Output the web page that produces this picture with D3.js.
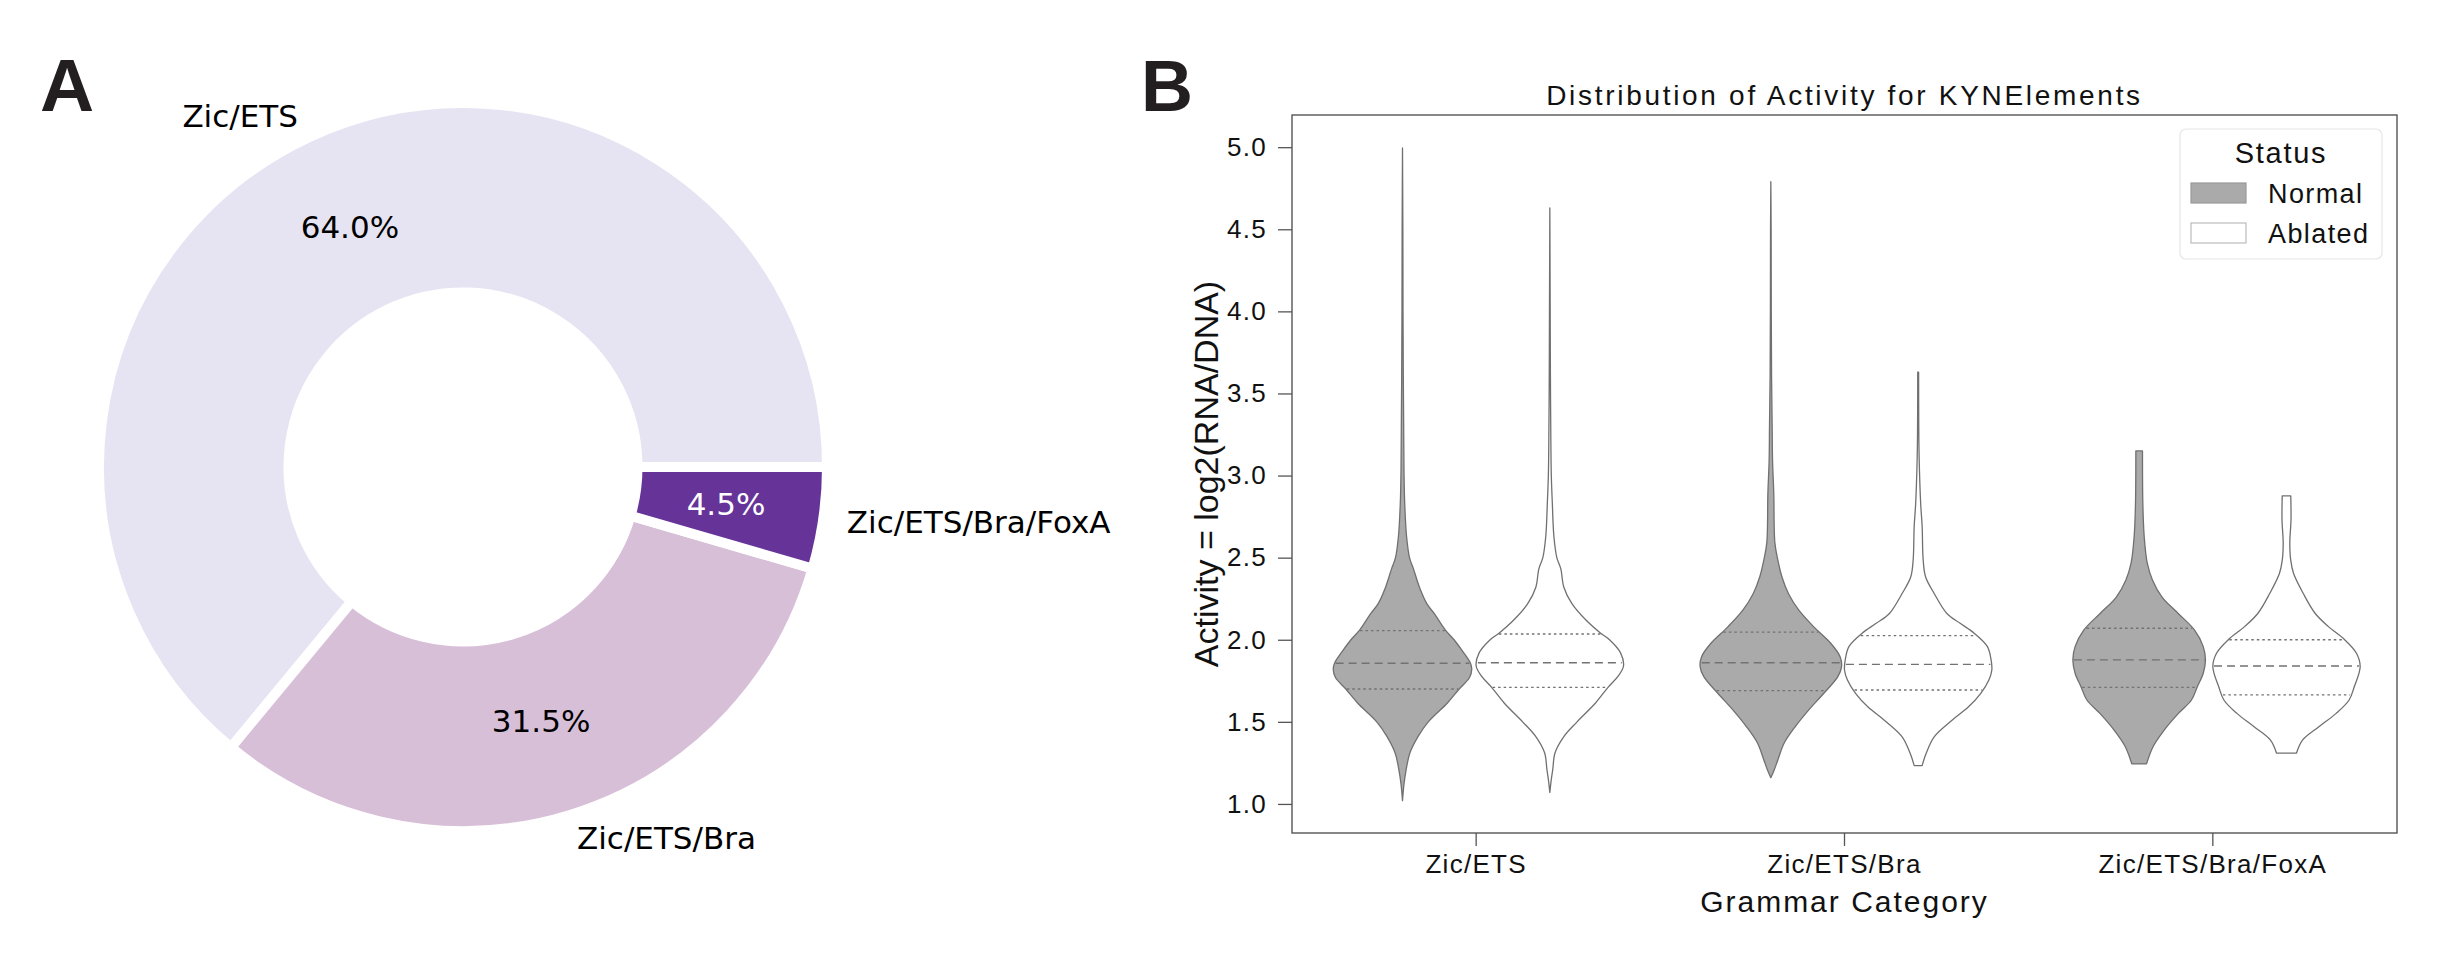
<!DOCTYPE html>
<html>
<head>
<meta charset="utf-8">
<script src="https://cdn.jsdelivr.net/npm/d3@7"></script>
<style>
  body { margin: 0; background: #fff; }
  text { white-space: pre; }
</style>
</head>
<body>
<svg id="chart" width="2459" height="960"></svg>
<script>
// ---- panel A data ----
const pieLabels = ["Zic/ETS", "Zic/ETS/Bra", "Zic/ETS/Bra/FoxA"];
const pieShares = [64.0, 31.5, 4.5];
const pieColors = ["#e6e4f2", "thistle", "rebeccapurple"];

// ---- panel B data ----
const categories = ["Zic/ETS", "Zic/ETS/Bra", "Zic/ETS/Bra/FoxA"];
const statuses = ["Normal", "Ablated"];
const yTicks = [1.0, 1.5, 2.0, 2.5, 3.0, 3.5, 4.0, 4.5, 5.0];

// density profiles: [activity, relative half width]
const zicEtsNormal = [
  [1.02, 0], [1.12, 0.02], [1.21, 0.05], [1.31, 0.10], [1.41, 0.21], [1.50, 0.35],
  [1.615, 0.61], [1.70, 0.77], [1.77, 0.91], [1.82, 0.94], [1.86, 0.92], [1.94, 0.80],
  [2.0, 0.70], [2.06, 0.58], [2.16, 0.43], [2.22, 0.33], [2.32, 0.23], [2.43, 0.15],
  [2.5, 0.095], [2.63, 0.055], [2.83, 0.03], [3.03, 0.02], [3.3, 0.016], [3.6, 0.011],
  [4.0, 0.007], [4.5, 0.005], [4.995, 0]
];
const zicEtsAblated = [
  [1.07, 0], [1.15, 0.02], [1.21, 0.04], [1.31, 0.07], [1.41, 0.19], [1.50, 0.37],
  [1.615, 0.62], [1.71, 0.79], [1.78, 0.93], [1.84, 1.0], [1.92, 0.96], [2.0, 0.81],
  [2.04, 0.69], [2.12, 0.49], [2.22, 0.30], [2.32, 0.19], [2.43, 0.15], [2.5, 0.095],
  [2.63, 0.055], [2.83, 0.034], [3.0, 0.02], [3.2, 0.014], [3.6, 0.008], [4.0, 0.005],
  [4.63, 0]
];
const braNormal = [
  [1.16, 0], [1.20, 0.04], [1.268, 0.095], [1.37, 0.18], [1.47, 0.33], [1.57, 0.51],
  [1.674, 0.72], [1.775, 0.91], [1.836, 0.96], [1.897, 0.94], [1.98, 0.81], [2.08, 0.58],
  [2.18, 0.38], [2.28, 0.24], [2.384, 0.15], [2.486, 0.095], [2.59, 0.055], [2.89, 0.04],
  [3.095, 0.023], [3.3, 0.018], [3.6, 0.01], [4.0, 0.006], [4.5, 0.004], [4.79, 0]
];
const braAblated = [
  [1.233, 0.054], [1.31, 0.11], [1.41, 0.22], [1.51, 0.46], [1.59, 0.68], [1.674, 0.85],
  [1.755, 0.96], [1.816, 1.0], [1.877, 0.99], [1.958, 0.94], [2.04, 0.76], [2.10, 0.57],
  [2.16, 0.39], [2.28, 0.22], [2.384, 0.10], [2.486, 0.068], [2.69, 0.054], [2.83, 0.034],
  [3.095, 0.014], [3.3, 0.008], [3.63, 0.006]
];
const foxaNormal = [
  [1.244, 0.10], [1.35, 0.19], [1.45, 0.34], [1.55, 0.53], [1.633, 0.71], [1.714, 0.79],
  [1.796, 0.87], [1.877, 0.90], [1.958, 0.87], [2.06, 0.75], [2.16, 0.53], [2.26, 0.31],
  [2.364, 0.18], [2.466, 0.11], [2.63, 0.068], [2.83, 0.05], [3.15, 0.045]
];
const foxaAblated = [
  [1.31, 0.136], [1.39, 0.22], [1.47, 0.44], [1.55, 0.67], [1.633, 0.85], [1.714, 0.92],
  [1.836, 1.0], [1.918, 0.95], [2.0, 0.79], [2.08, 0.57], [2.16, 0.39], [2.28, 0.23],
  [2.405, 0.095], [2.486, 0.057], [2.59, 0.045], [2.73, 0.061], [2.876, 0.058]
];
// lower quartile, median, upper quartile
const zicEtsNormalQ = [1.70, 1.857, 2.055];
const zicEtsAblatedQ = [1.71, 1.86, 2.035];
const braNormalQ = [1.69, 1.86, 2.046];
const braAblatedQ = [1.694, 1.85, 2.025];
const foxaNormalQ = [1.71, 1.877, 2.07];
const foxaAblatedQ = [1.664, 1.84, 2.0];

const violins = [
  { category: categories[0], status: "Normal", profile: zicEtsNormal, q: zicEtsNormalQ },
  { category: categories[0], status: "Ablated", profile: zicEtsAblated, q: zicEtsAblatedQ },
  { category: categories[1], status: "Normal", profile: braNormal, q: braNormalQ },
  { category: categories[1], status: "Ablated", profile: braAblated, q: braAblatedQ },
  { category: categories[2], status: "Normal", profile: foxaNormal, q: foxaNormalQ },
  { category: categories[2], status: "Ablated", profile: foxaAblated, q: foxaAblatedQ }
];

const svg = d3.select("#chart");
const sansA = "'DejaVu Sans', sans-serif";
const sansB = "'Liberation Sans', Arial, sans-serif";

/* === panel letters === */
svg.append("text").attr("x", 40).attr("y", 111).text("A")
  .attr("font-family", sansB).attr("font-weight", "bold").attr("font-size", 75).attr("fill", "#231f20");
svg.append("text").attr("x", 1141).attr("y", 111).text("B")
  .attr("font-family", sansB).attr("font-weight", "bold").attr("font-size", 72).attr("fill", "#231f20");

/* === panel A: donut === */
const cx = 463, cy = 467, R = 359, edge = 10;
const pie = d3.pie().sort(null)
  .startAngle(Math.PI / 2)
  .endAngle(Math.PI / 2 - 2 * Math.PI);
const arcs = pie(pieShares);
const arc = d3.arc().innerRadius(R / 2 - edge / 2).outerRadius(R + edge / 2);

const gA = svg.append("g").attr("transform", `translate(${cx},${cy})`);
gA.selectAll("path.wedge")
  .data(arcs)
  .join("path")
  .attr("class", "wedge")
  .attr("d", arc)
  .attr("fill", (d, i) => pieColors[i])
  .attr("stroke", "#fff")
  .attr("stroke-width", edge);

const midA = d => (d.startAngle + d.endAngle) / 2;
gA.selectAll("text.pct")
  .data(arcs)
  .join("text")
  .attr("class", "pct")
  .attr("x", d => 0.74 * R * Math.sin(midA(d)))
  .attr("y", d => -0.74 * R * Math.cos(midA(d)))
  .attr("text-anchor", "middle")
  .attr("dominant-baseline", "central")
  .attr("font-family", sansA)
  .attr("font-size", 31)
  .attr("fill", (d, i) => d3.hsl(pieColors[i]).l < 0.5 ? "#fff" : "#000")
  .text(d => d.data.toFixed(1) + "%");

gA.selectAll("text.lbl")
  .data(arcs)
  .join("text")
  .attr("class", "lbl")
  .attr("x", d => 1.08 * R * Math.sin(midA(d)))
  .attr("y", d => -1.08 * R * Math.cos(midA(d)))
  .attr("text-anchor", d => Math.sin(midA(d)) < 0 ? "end" : "start")
  .attr("dominant-baseline", "central")
  .attr("font-family", sansA)
  .attr("font-size", 31)
  .attr("fill", "#000")
  .text((d, i) => pieLabels[i]);

/* === panel B: violins === */
const plot = { left: 1292, right: 2397, top: 115, bottom: 833 };

const x = d3.scaleBand().domain(categories).range([plot.left, plot.right]);
const bw = x.bandwidth();
const hue = d3.scaleBand().domain(statuses).range([-0.4 * bw, 0.4 * bw]);
const y = d3.scaleLinear().domain([0.823, 5.196]).range([plot.bottom, plot.top]);
const w = d3.scaleLinear().domain([0, 1]).range([0, 0.2 * bw]);
const fills = { Normal: "#aaaaaa", Ablated: "#ffffff" };

const centerOf = v => x(v.category) + bw / 2 + hue(v.status) + hue.bandwidth() / 2;

const gB = svg.append("g");

violins.forEach(v => {
  const c = centerOf(v);
  const area = d3.area()
    .curve(d3.curveCatmullRom)
    .y(d => y(d[0]))
    .x0(d => c - w(d[1]))
    .x1(d => c + w(d[1]));

  gB.append("path")
    .datum(v.profile)
    .attr("d", area)
    .attr("fill", fills[v.status])
    .attr("stroke", "#707070")
    .attr("stroke-width", 1.3)
    .attr("stroke-linejoin", "round");

  const dens = d3.scaleLinear()
    .domain(v.profile.map(d => d[0]))
    .range(v.profile.map(d => d[1]));

  v.q.forEach((qv, i) => {
    const hw = w(dens(qv)) - 1;
    gB.append("line")
      .attr("x1", c - hw).attr("x2", c + hw)
      .attr("y1", y(qv)).attr("y2", y(qv))
      .attr("stroke", "#727272")
      .attr("stroke-width", 1.3)
      .attr("stroke-dasharray", i === 1 ? "8,5" : "2.5,3");
  });
});

/* axes frame */
svg.append("rect")
  .attr("x", plot.left).attr("y", plot.top)
  .attr("width", plot.right - plot.left).attr("height", plot.bottom - plot.top)
  .attr("fill", "none")
  .attr("stroke", "#555")
  .attr("stroke-width", 1.4);

const yAxis = svg.append("g")
  .attr("transform", `translate(${plot.left},0)`)
  .call(d3.axisLeft(y).tickValues(yTicks).tickFormat(d3.format(".1f")).tickSize(14).tickPadding(11));
yAxis.select(".domain").remove();

const xAxis = svg.append("g")
  .attr("transform", `translate(0,${plot.bottom})`)
  .call(d3.axisBottom(x).tickSize(13).tickPadding(9));
xAxis.select(".domain").remove();

[yAxis, xAxis].forEach(g => {
  g.selectAll(".tick line").attr("stroke", "#555").attr("stroke-width", 1.3);
  g.selectAll(".tick text")
    .attr("font-family", sansB).attr("font-size", 26).attr("fill", "#111")
    .attr("letter-spacing", 1.3);
});

/* titles */
svg.append("text")
  .attr("x", (plot.left + plot.right) / 2).attr("y", 105)
  .attr("text-anchor", "middle")
  .attr("font-family", sansB).attr("font-size", 28).attr("fill", "#111")
  .attr("letter-spacing", 2.7)
  .text("Distribution of Activity for KYNElements");

svg.append("text")
  .attr("x", (plot.left + plot.right) / 2).attr("y", 912)
  .attr("text-anchor", "middle")
  .attr("font-family", sansB).attr("font-size", 30).attr("fill", "#111")
  .attr("letter-spacing", 2)
  .text("Grammar Category");

svg.append("text")
  .attr("transform", `translate(1218,${(plot.top + plot.bottom) / 2}) rotate(-90)`)
  .attr("text-anchor", "middle")
  .attr("font-family", sansB).attr("font-size", 34).attr("fill", "#111")
  .text("Activity = log2(RNA/DNA)");

/* legend */
const legend = svg.append("g").attr("transform", "translate(2180,129)");
legend.append("rect")
  .attr("width", 202).attr("height", 130).attr("rx", 6)
  .attr("fill", "#fff").attr("stroke", "#e6e6e6").attr("stroke-width", 1.2);
legend.append("text")
  .attr("x", 101).attr("y", 34)
  .attr("text-anchor", "middle")
  .attr("font-family", sansB).attr("font-size", 29).attr("fill", "#111")
  .attr("letter-spacing", 1.7)
  .text("Status");

const items = legend.selectAll("g.item")
  .data(statuses)
  .join("g")
  .attr("class", "item")
  .attr("transform", (d, i) => `translate(11,${54 + i * 40})`);
items.append("rect")
  .attr("width", 55).attr("height", 20)
  .attr("fill", d => fills[d])
  .attr("stroke", d => d === "Normal" ? "#999" : "#bbb")
  .attr("stroke-width", 1.2);
items.append("text")
  .attr("x", 77).attr("y", 20)
  .attr("font-family", sansB).attr("font-size", 27).attr("fill", "#111")
  .attr("letter-spacing", 1.4)
  .text(d => d);
</script>
</body>
</html>
